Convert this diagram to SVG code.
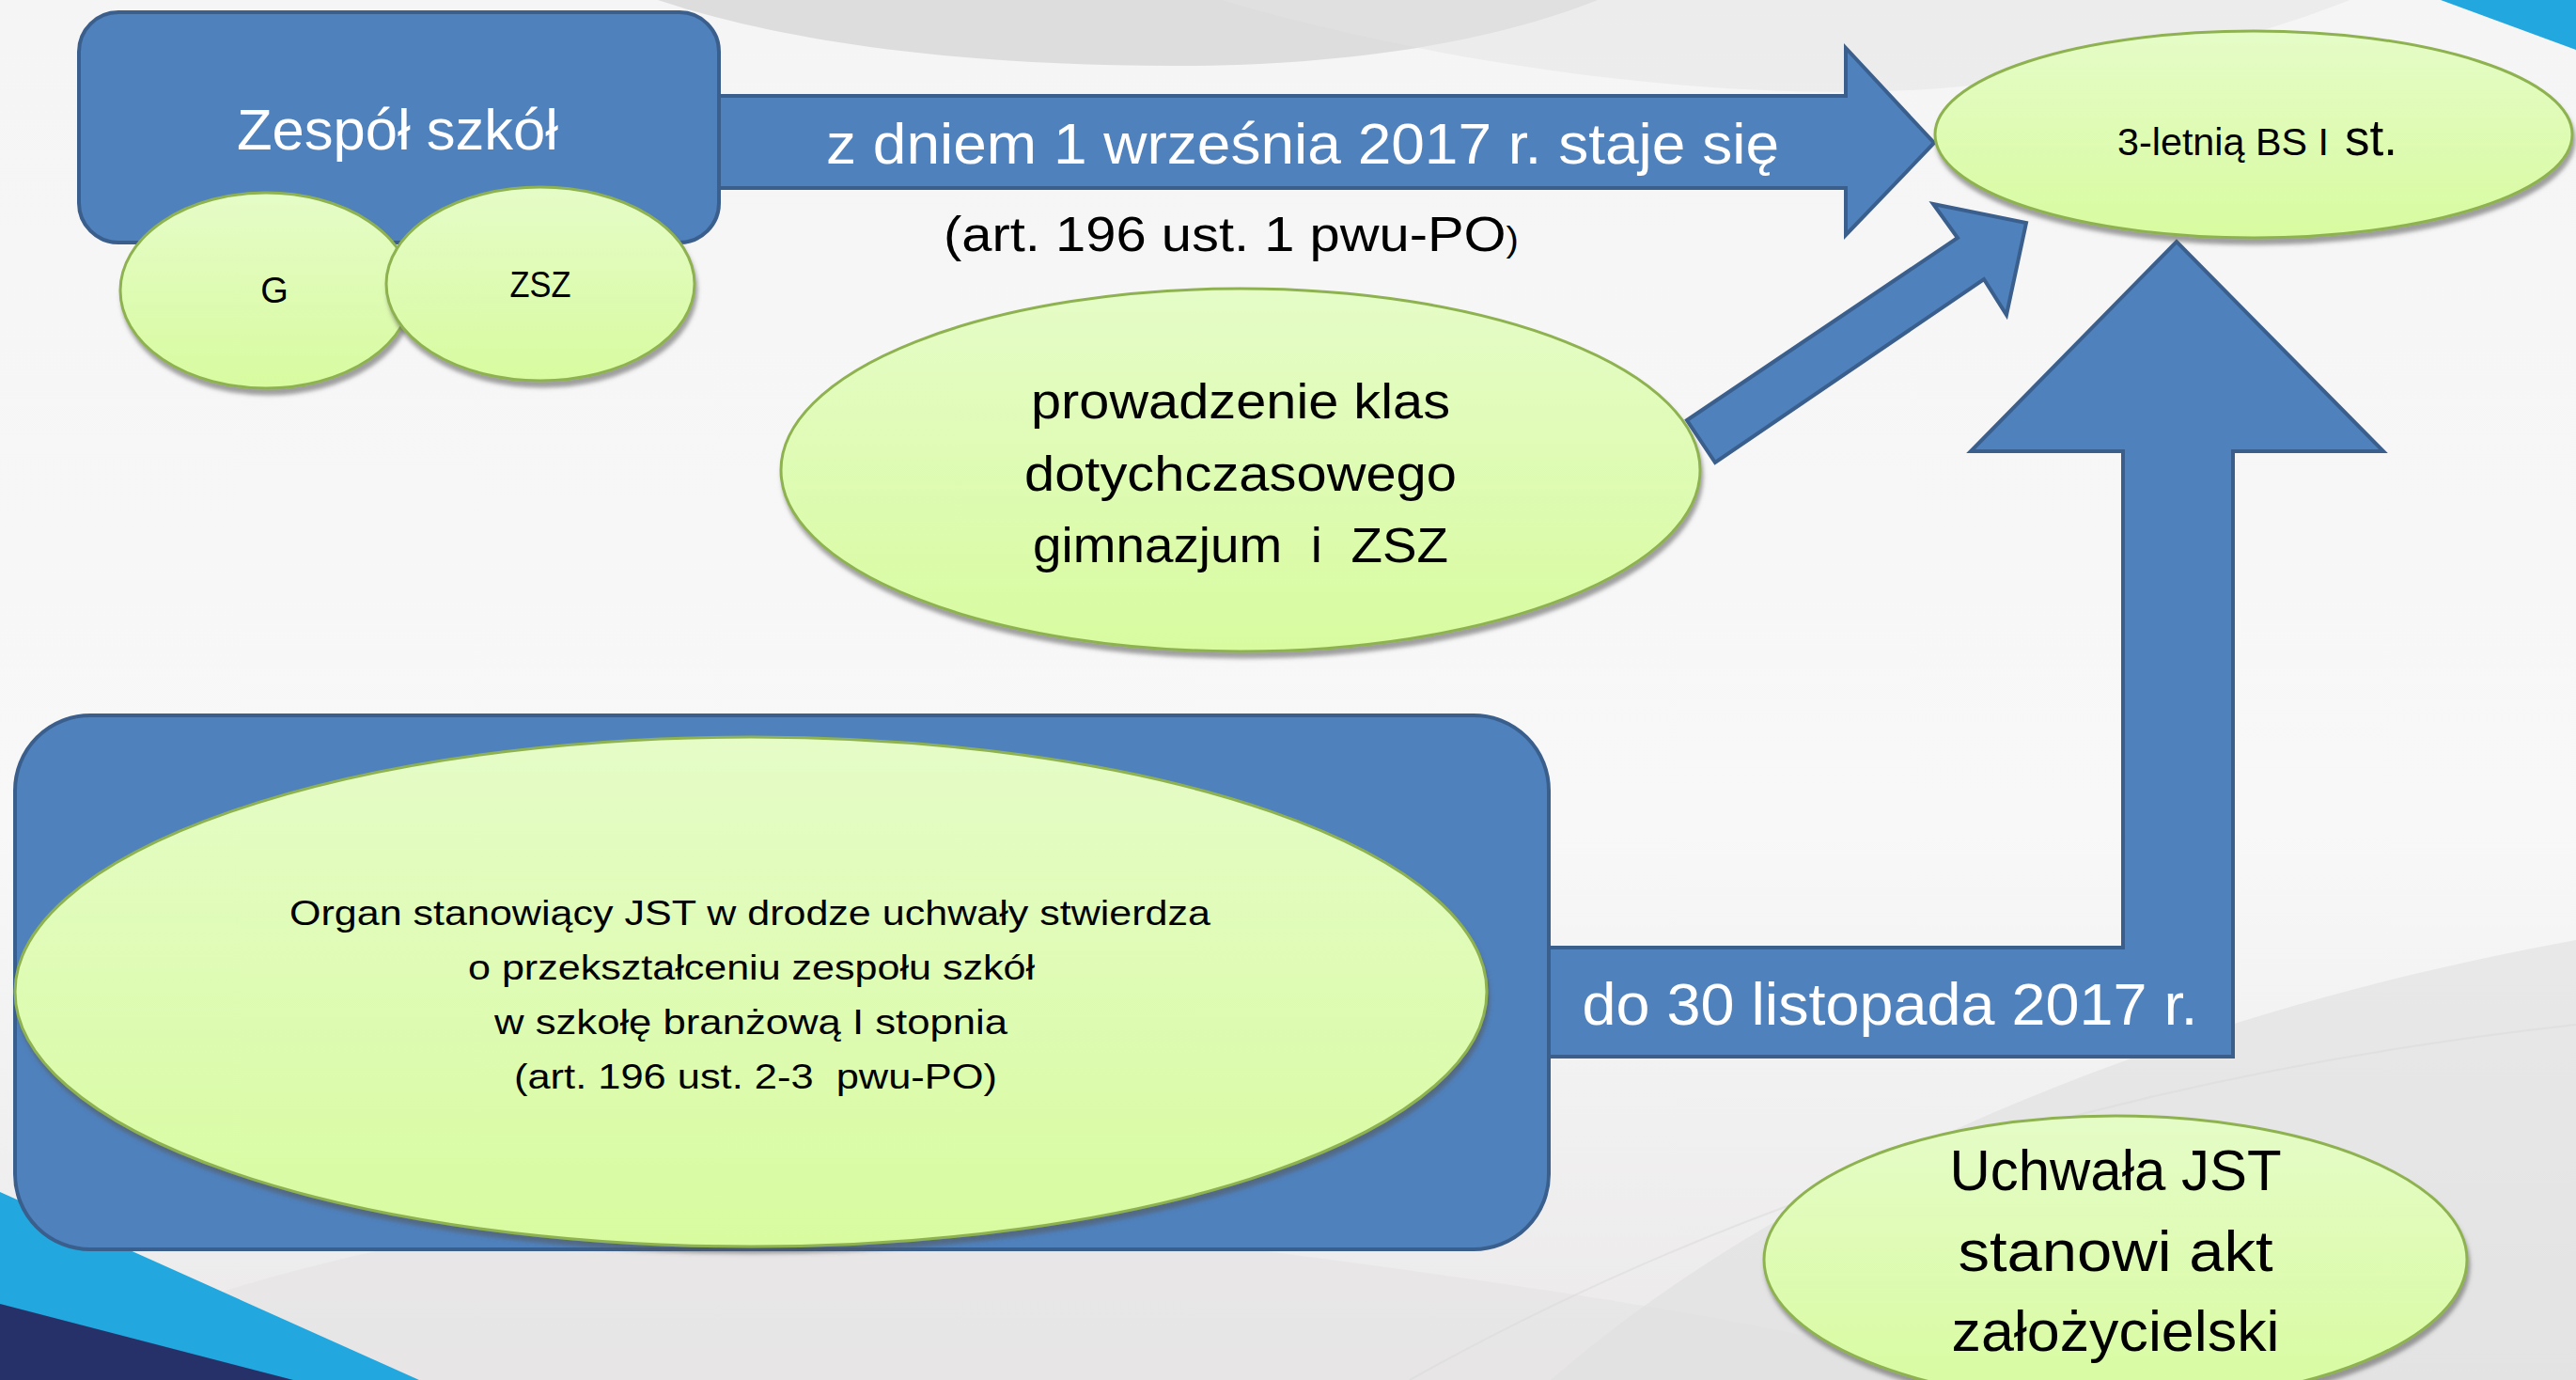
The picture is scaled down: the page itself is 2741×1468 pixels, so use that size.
<svg xmlns="http://www.w3.org/2000/svg" width="2741" height="1468" viewBox="0 0 2741 1468">
<defs>
<linearGradient id="bg" x1="0" y1="0" x2="0" y2="1">
<stop offset="0" stop-color="#f6f5f6"/>
<stop offset="0.6" stop-color="#f8f8f9"/>
<stop offset="1" stop-color="#ebe9ea"/>
</linearGradient>
<linearGradient id="green" x1="0" y1="0" x2="0" y2="1">
<stop offset="0" stop-color="#e5fcc7"/>
<stop offset="1" stop-color="#d8fba0"/>
</linearGradient>
<filter id="sh" x="-10%" y="-10%" width="120%" height="125%">
<feDropShadow dx="2" dy="6" stdDeviation="2" flood-color="#555" flood-opacity="0.55"/>
</filter>
</defs>
<style>
.blue{fill:#4f81bd;stroke:#3a5f8d;stroke-width:4;stroke-linejoin:miter}
.ell{fill:url(#green);stroke:#8fb251;stroke-width:3;filter:url(#sh)}
.w{fill:#ffffff;font-family:"Liberation Sans",Arial,sans-serif}
.k{fill:#000000;font-family:"Liberation Sans",Arial,sans-serif}
</style>
<g id="background">
<rect width="2741" height="1468" fill="url(#bg)"/>
<path d="M700 0 C820 40 1000 70 1250 70 C1450 70 1600 40 1700 0 Z" fill="#d4d4d4" opacity="0.75"/>
<path d="M1300 0 C1500 60 1800 110 2050 95 C2250 80 2400 40 2500 0 Z" fill="#e4e4e4" opacity="0.5"/>
<path d="M0 1468 C300 1320 700 1250 1100 1300 C1500 1350 1900 1400 2100 1468 Z" fill="#e4e2e3" opacity="0.6"/>
<path d="M1650 1468 C1900 1250 2300 1080 2741 1000 L2741 1468 Z" fill="#e0dfe0" opacity="0.6"/>
<path d="M1500 1468 C1800 1300 2200 1150 2741 1090" fill="none" stroke="#dadada" stroke-width="2" opacity="0.5"/>
<polygon points="0,1268 446,1468 0,1468" fill="#22a8de"/>
<polygon points="0,1387 312,1468 0,1468" fill="#263069"/>
<polygon points="2597,0 2741,0 2741,53" fill="#22a8de"/>
</g>
<g id="connectors">
<polygon id="arrow-top" class="blue" points="764,102 1964,102 1964,51 2058,152 1964,250 1964,200 764,200"/>
<polygon id="arrow-diag" class="blue" points="1795,447 2083,253 2057,217 2156,237 2135,335 2111,297 1825,492"/>
<polygon id="arrow-up" class="blue" points="1647,1008 2259,1008 2259,480 2097,480 2316,257 2536,480 2376,480 2376,1124 1647,1124"/>
<text class="w" x="1386" y="174" font-size="61" text-anchor="middle" textLength="1014" lengthAdjust="spacingAndGlyphs">z dniem 1 września 2017 r. staje się</text>
<text class="k" x="1004" y="267" font-size="52" textLength="612" lengthAdjust="spacingAndGlyphs">(art. 196 ust. 1 pwu-PO<tspan font-size="36">)</tspan></text>
<text class="w" x="2011" y="1090" font-size="63" text-anchor="middle" textLength="655" lengthAdjust="spacingAndGlyphs">do 30 listopada 2017 r.</text>
</g>
<g id="node-zespol">
<rect x="84" y="13" width="681" height="245" rx="42" ry="42" class="blue"/>
<text class="w" x="423" y="159" font-size="61" text-anchor="middle" textLength="342" lengthAdjust="spacingAndGlyphs">Zespół szkół</text>
</g>
<g id="node-g">
<ellipse cx="283" cy="309" rx="155" ry="104" class="ell"/>
<text class="k" x="292" y="322" font-size="38" text-anchor="middle">G</text>
</g>
<g id="node-zsz">
<ellipse cx="575" cy="302" rx="164" ry="103" class="ell"/>
<text class="k" x="575" y="316" font-size="38" text-anchor="middle" textLength="65" lengthAdjust="spacingAndGlyphs">ZSZ</text>
</g>
<g id="node-bs">
<ellipse cx="2398" cy="143" rx="339" ry="110" class="ell"/>
<text class="k" x="2253" y="165" font-size="40" textLength="225" lengthAdjust="spacingAndGlyphs">3-letnią BS I</text>
<text class="k" x="2495" y="165" font-size="54" textLength="56" lengthAdjust="spacingAndGlyphs">st.</text>
</g>
<g id="node-prowadzenie">
<ellipse cx="1320" cy="500" rx="489" ry="193" class="ell"/>
<text class="k" x="1320" y="445" font-size="51" text-anchor="middle" textLength="446" lengthAdjust="spacingAndGlyphs">prowadzenie klas</text>
<text class="k" x="1320" y="522" font-size="51" text-anchor="middle" textLength="460" lengthAdjust="spacingAndGlyphs">dotychczasowego</text>
<text class="k" x="1320" y="598" font-size="51" text-anchor="middle" textLength="442" lengthAdjust="spacingAndGlyphs" xml:space="preserve">gimnazjum  i  ZSZ</text>
</g>
<g id="node-organ">
<rect x="16" y="761" width="1632" height="568" rx="80" ry="80" class="blue"/>
<ellipse cx="799" cy="1055" rx="783" ry="271" class="ell"/>
<text class="k" x="308" y="984" font-size="36" textLength="980" lengthAdjust="spacingAndGlyphs">Organ stanowiący JST w drodze uchwały stwierdza</text>
<text class="k" x="498" y="1042" font-size="36" textLength="603" lengthAdjust="spacingAndGlyphs">o przekształceniu zespołu szkół</text>
<text class="k" x="526" y="1100" font-size="36" textLength="546" lengthAdjust="spacingAndGlyphs">w szkołę branżową I stopnia</text>
<text class="k" x="547" y="1158" font-size="36" textLength="514" lengthAdjust="spacingAndGlyphs" xml:space="preserve">(art. 196 ust. 2-3  pwu-PO)</text>
</g>
<g id="node-uchwala">
<ellipse cx="2251" cy="1340" rx="374" ry="153" class="ell"/>
<text class="k" x="2251" y="1266" font-size="61" text-anchor="middle" textLength="353" lengthAdjust="spacingAndGlyphs">Uchwała JST</text>
<text class="k" x="2251" y="1352" font-size="61" text-anchor="middle" textLength="335" lengthAdjust="spacingAndGlyphs">stanowi akt</text>
<text class="k" x="2251" y="1437" font-size="61" text-anchor="middle" textLength="349" lengthAdjust="spacingAndGlyphs">założycielski</text>
</g>
</svg>
